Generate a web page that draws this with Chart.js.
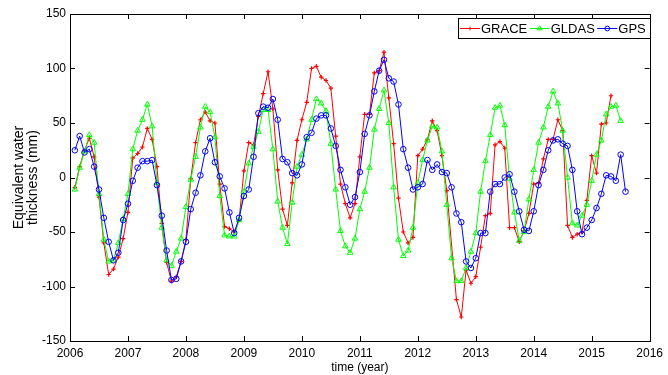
<!DOCTYPE html>
<html>
<head>
<meta charset="utf-8">
<script src="https://cdn.jsdelivr.net/npm/chart.js@4.4.0/dist/chart.umd.min.js"></script>
<style>
  body { margin: 0; background: #fff; }
  #wrap { width: 668px; height: 375px; }
</style>
</head>
<body>
<div id="wrap"><canvas id="waterChart" width="668" height="375"></canvas></div>
<script>
// Monthly series, first sample Feb 2006
const firstYear = 2006;
const firstMonth = 1;

const graceValues = [
    -9, 10, 25, 36, 19, -18, -60, -89, -84, -73, -56, -32,
    18, 22, 28, 45, 35, 10, -42, -78, -95, -91, -77, -57,
    -1, 32, 53, 60, 52, 50, -6, -45, -47, -50, -39, 6,
    32, 30, 56, 77, 97, 63, 7, -29, -44, -5, 34, 53,
    69, 100, 102, 92, 89, 82, 38, -6, -24, -37, -24, 19,
    58, 58, 96, 98, 115, 73, 31, -19, -50, -60, -55, 20,
    26, 35, 52, 43, 20, -12, null, -112, -128, -85, -97, -91,
    -64, -35, -33, 30, 33, 27, -46, -46, -59, -49, -33, -6,
    -5, 17, 35, 35, 53, 43, -44, -55, -52, -50, -21, 20,
    4, 49, 50, 75
];

const gldasValues = [
    -11, 9, 24, 39, 32, -15, -57, -77, -76, -60, -38, -15,
    26, 43, 53, 67, 47, -5, -46, -76, -81, -68, -56, -27,
    -2, 19, 46, 65, 60, 37, -17, -53, -54, -54, -39, -13,
    13, 28, 42, 62, 62, 26, -22, -46, -61, -23, 10, 21,
    35, 53, 72, 68, 61, 31, -11, -49, -63, -69, -56, -29,
    -13, 9, 44, 63, 80, 50, -9, -57, -72, -67, -46, -5,
    16, 34, 47, 46, 24, -25, -74, -95, -95, -83, -68, -51,
    -13, 15, 39, 64, 66, 48, -1, -32, -58, -50, -20, 7,
    32, 46, 65, 79, 68, 43, 0, -42, -44, -35, -25, -3,
    21, 34, 58, 65, 66, 52
];

const gpsValues = [
    25, 38, 23, 26, 10, -11, -37, -59, -76, -69, -39, -24,
    -3, 9, 15, 15, 16, -7, -35, -67, -94, -93, -77, -59,
    -29, -14, 2, 24, 36, 14, 1, -10, -32, -51, -37, -17,
    -11, 19, 59, 65, 64, 72, 53, 17, 14, 4, 2, 12,
    37, 41, 54, 57, 57, 45, 29, 7, -9, -25, -18, 5,
    40, 57, 79, 98, 108, 91, 88, 67, 26, 9, -11, -9,
    -6, 16, 7, 12, 5, 4, -9, -33, -41, -77, -83, -74,
    -51, -51, -13, -6, -6, 0, 3, -13, -31, -48, -49, -31,
    -7, 7, 25, 34, 35, 31, 29, 7, -31, -52, -46, -39,
    -28, -15, 2, 1, -3, 21, -13
];

const yearTicks = [2006, 2007, 2008, 2009, 2010, 2011, 2012, 2013, 2014, 2015, 2016];
const valueTicks = [-150, -100, -50, 0, 50, 100, 150];

const sansFont = '"Liberation Sans", Arial, sans-serif';

function toPoints(values) {
    return values.map((v, k) => ({ x: firstYear + (firstMonth + k) / 12, y: v }));
}

// MATLAB-like box with inward ticks and a boxed legend
const matlabFrame = {
    id: 'matlabFrame',
    afterDraw(chart) {
        const { ctx, chartArea: a, scales } = chart;
        ctx.save();
        ctx.strokeStyle = '#000';
        ctx.lineWidth = 1;
        ctx.beginPath();
        yearTicks.forEach(t => {
            const px = Math.round(scales.x.getPixelForValue(t)) + 0.5;
            ctx.moveTo(px, a.bottom); ctx.lineTo(px, a.bottom - 5);
            ctx.moveTo(px, a.top); ctx.lineTo(px, a.top + 5);
        });
        valueTicks.forEach(t => {
            const py = Math.round(scales.y.getPixelForValue(t)) + 0.5;
            ctx.moveTo(a.left, py); ctx.lineTo(a.left + 5, py);
            ctx.moveTo(a.right, py); ctx.lineTo(a.right - 5, py);
        });
        ctx.stroke();
        ctx.strokeRect(Math.round(a.left) + 0.5, Math.round(a.top) + 0.5,
            Math.round(a.right - a.left), Math.round(a.bottom - a.top));

        // legend
        const boxL = 458.5, boxT = 18.5, boxW = 192, boxH = 20;
        ctx.fillStyle = '#fff';
        ctx.fillRect(boxL, boxT, boxW, boxH);
        ctx.strokeRect(boxL, boxT, boxW, boxH);
        ctx.font = '13px ' + sansFont;
        ctx.textBaseline = 'middle';
        let x = boxL + 1.5;
        const cy = boxT + boxH / 2;
        chart.data.datasets.forEach(ds => {
            ctx.strokeStyle = ds.borderColor;
            ctx.lineWidth = 1;
            ctx.beginPath();
            ctx.moveTo(x, cy); ctx.lineTo(x + 20, cy);
            ctx.stroke();
            ctx.fillStyle = ds.backgroundColor;
            Chart.helpers.drawPoint(ctx, {
                pointStyle: ds.pointStyle, radius: ds.pointRadius * 0.85, borderWidth: 1, rotation: 0
            }, x + 10, cy);
            ctx.fillStyle = '#000';
            ctx.fillText(ds.label, x + 21, cy + 1);
            x += 21 + ctx.measureText(ds.label).width + 2.5;
        });
        ctx.restore();
    }
};

new Chart(document.getElementById('waterChart').getContext('2d'), {
    type: 'line',
    data: {
        datasets: [
            {
                label: 'GRACE', data: toPoints(graceValues), order: 2,
                borderColor: '#ff0000', backgroundColor: '#ff0000',
                pointStyle: 'cross', pointRadius: 2.2, pointBorderWidth: 1.2,
                borderWidth: 1, spanGaps: true
            },
            {
                label: 'GLDAS', data: toPoints(gldasValues), order: 1,
                borderColor: '#00ff00', backgroundColor: 'rgba(0,0,0,0)',
                pointStyle: 'triangle', pointRadius: 3.2, pointBorderWidth: 1,
                borderWidth: 1
            },
            {
                label: 'GPS', data: toPoints(gpsValues), order: 0,
                borderColor: '#0000ff', backgroundColor: 'rgba(0,0,0,0)',
                pointStyle: 'circle', pointRadius: 2.8, pointBorderWidth: 1,
                borderWidth: 1
            }
        ]
    },
    options: {
        responsive: false,
        animation: false,
        devicePixelRatio: 1,
        layout: { padding: { top: 14, right: 13, left: 0, bottom: 0 } },
        plugins: {
            legend: { display: false },
            tooltip: { enabled: false }
        },
        elements: { line: { tension: 0 } },
        scales: {
            x: {
                type: 'linear', min: 2006, max: 2016,
                afterBuildTicks: s => { s.ticks = yearTicks.map(v => ({ value: v })); },
                afterFit: s => { s.height = 34; },
                grid: { display: false, drawTicks: false },
                border: { display: false },
                ticks: {
                    padding: 5, color: '#000', maxRotation: 0,
                    font: { family: sansFont, size: 12 },
                    callback: v => String(v)
                },
                title: {
                    display: true, text: 'time (year)', color: '#000',
                    font: { family: sansFont, size: 12, lineHeight: 1.2 },
                    padding: { top: 0, bottom: 0 }
                }
            },
            y: {
                min: -150, max: 150,
                afterBuildTicks: s => { s.ticks = valueTicks.map(v => ({ value: v })); },
                afterFit: s => { s.width = 70; },
                grid: { display: false, drawTicks: false },
                border: { display: false },
                ticks: {
                    padding: 4, color: '#000',
                    font: { family: sansFont, size: 12 }
                },
                title: {
                    display: true, text: ['Equivalent water', 'thickness (mm)'], color: '#000',
                    font: { family: sansFont, size: 14, lineHeight: 1.0 },
                    padding: { top: 12, bottom: 0 }
                }
            }
        }
    },
    plugins: [matlabFrame]
});
</script>
</body>
</html>
